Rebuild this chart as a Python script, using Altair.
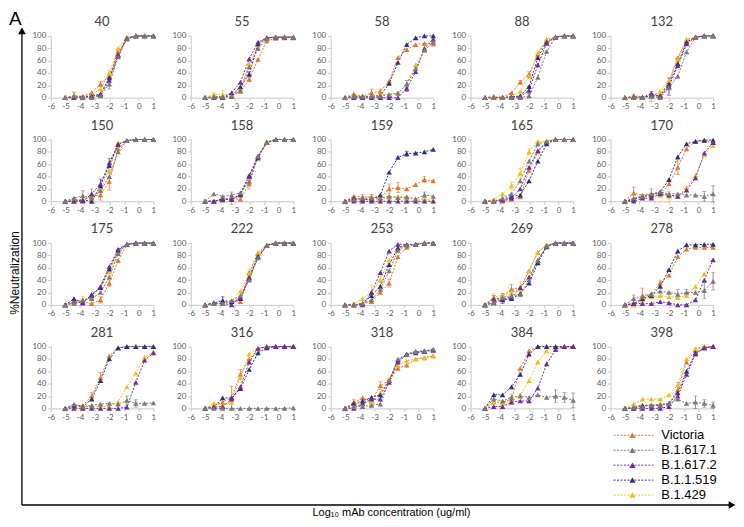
import altair as alt
import pandas as pd

SERIES = ["Victoria", "B.1.617.1", "B.1.617.2", "B.1.1.519", "B.1.429"]
COLORS = ["#E2772F", "#7A7A7A", "#6A2CA0", "#26307F", "#F3BD1C"]
DRAW_ORDER = ["Victoria", "B.1.429", "B.1.1.519", "B.1.617.2", "B.1.617.1"]
LOG_CONC = [-5.02, -4.42, -3.82, -3.21, -2.61, -2.01, -1.41, -0.81, -0.20, 0.40, 1.00]
X_TICKS = [-6, -5, -4, -3, -2, -1, 0, 1]
Y_TICKS = [0, 20, 40, 60, 80, 100]
PANELS = ["40", "55", "58", "88", "132", "150", "158", "159", "165", "170",
          "175", "222", "253", "269", "278", "281", "316", "318", "384", "398"]

# %neutralization per mAb, series -> values at LOG_CONC
mab40 = {
    "Victoria":  [0, 3, 2, 8, 22, 35, 75, 97, 100, 100, 100],
    "B.1.617.1": [0, 3, 1, 0, 3, 22, 66, 95, 100, 100, 100],
    "B.1.617.2": [0, 0, 1, 3, 5, 28, 70, 96, 100, 100, 100],
    "B.1.1.519": [0, 1, 1, 2, 6, 32, 68, 96, 100, 100, 100],
    "B.1.429":   [0, 4, 2, 5, 14, 40, 80, 98, 100, 100, 100],
}
mab55 = {
    "Victoria":  [0, 2, 1, 3, 10, 30, 62, 92, 96, 97, 97],
    "B.1.617.1": [0, 1, 1, 2, 12, 50, 80, 96, 98, 98, 98],
    "B.1.617.2": [0, 0, 0, 8, 25, 63, 90, 97, 98, 98, 98],
    "B.1.1.519": [0, 1, 1, 2, 18, 38, 87, 97, 98, 98, 98],
    "B.1.429":   [0, 5, 5, 5, 15, 55, 85, 97, 98, 98, 98],
}
mab58 = {
    "Victoria":  [0, 6, 2, 8, 10, 27, 65, 78, 86, 88, 87],
    "B.1.617.1": [0, 2, 2, 2, 3, 5, 7, 22, 47, 77, 90],
    "B.1.617.2": [0, 0, 0, 0, 0, 0, 0, 15, 42, 80, 95],
    "B.1.1.519": [0, 2, 2, 2, 3, 23, 57, 86, 97, 100, 100],
    "B.1.429":   [0, 3, 2, 2, 5, 5, 8, 22, 53, 77, 92],
}
mab88 = {
    "Victoria":  [0, 2, 1, 8, 25, 38, 70, 93, 98, 100, 100],
    "B.1.617.1": [0, 0, 0, 0, 0, 3, 33, 75, 98, 100, 100],
    "B.1.617.2": [0, 0, 0, 1, 2, 12, 53, 88, 98, 100, 100],
    "B.1.1.519": [0, 0, 0, 1, 3, 18, 65, 90, 98, 100, 100],
    "B.1.429":   [0, 2, 1, 2, 10, 35, 73, 95, 98, 100, 100],
}
mab132 = {
    "Victoria":  [0, 3, 1, 2, 5, 25, 65, 92, 98, 100, 100],
    "B.1.617.1": [0, 0, 0, 2, 0, 16, 35, 74, 98, 100, 100],
    "B.1.617.2": [0, 0, 0, 7, 2, 18, 52, 87, 98, 100, 100],
    "B.1.1.519": [0, 1, 1, 3, 3, 22, 55, 90, 98, 100, 100],
    "B.1.429":   [0, 1, 1, 2, 10, 28, 62, 95, 98, 100, 100],
}
mab150 = {
    "Victoria":  [0, 3, 2, 8, 10, 32, 85, 98, 100, 100, 100],
    "B.1.617.1": [0, 5, 9, 5, 17, 40, 80, 98, 100, 100, 100],
    "B.1.617.2": [0, 0, 0, 12, 28, 62, 92, 98, 100, 100, 100],
    "B.1.1.519": [0, 0, 2, 0, 25, 58, 92, 98, 100, 100, 100],
    "B.1.429":   [0, 2, 3, 5, 20, 50, 95, 98, 100, 100, 100],
}
mab158 = {
    "Victoria":  [0, 0, 2, 5, 3, 28, 72, 95, 100, 100, 100],
    "B.1.617.1": [0, 12, 8, 10, 14, 32, 73, 95, 100, 100, 100],
    "B.1.617.2": [0, 0, 3, 3, 10, 40, 70, 95, 100, 100, 100],
    "B.1.1.519": [0, 0, 4, 3, 12, 42, 73, 95, 100, 100, 100],
    "B.1.429":   [0, 0, 4, 3, 12, 38, 72, 97, 100, 100, 100],
}
mab159 = {
    "Victoria":  [0, 8, 7, 7, 5, 20, 22, 20, 27, 35, 33],
    "B.1.617.1": [0, 3, 5, 5, 5, 8, 6, 7, 4, 10, 8],
    "B.1.617.2": [0, 0, 0, 0, 0, 0, 0, 0, 0, 0, 0],
    "B.1.1.519": [0, 5, 3, 3, 10, 47, 71, 77, 78, 80, 84],
    "B.1.429":   [0, 3, 3, 3, 3, 5, 8, 5, 4, 3, 2],
}
mab165 = {
    "Victoria":  [0, 2, 0, 3, 7, 50, 80, 96, 100, 100, 100],
    "B.1.617.1": [0, 0, 5, 12, 33, 65, 93, 97, 100, 100, 100],
    "B.1.617.2": [0, 0, 2, 5, 20, 55, 82, 96, 100, 100, 100],
    "B.1.1.519": [0, 0, 3, 8, 10, 33, 65, 93, 100, 100, 100],
    "B.1.429":   [0, 3, 12, 25, 45, 80, 97, 98, 100, 100, 100],
}
mab170 = {
    "Victoria":  [0, 13, 10, 12, 12, 28, 55, 85, 97, 98, 95],
    "B.1.617.1": [0, 5, 8, 12, 15, 12, 12, 10, 10, 8, 12],
    "B.1.617.2": [0, 0, 5, 5, 12, 10, 8, 18, 38, 78, 95],
    "B.1.1.519": [0, 3, 8, 10, 15, 35, 72, 93, 97, 99, 99],
    "B.1.429":   [0, 3, 8, 8, 10, 8, 8, 22, 42, 75, 90],
}
mab175 = {
    "Victoria":  [0, 2, 5, 2, 8, 35, 72, 97, 100, 100, 100],
    "B.1.617.1": [0, 3, 8, 10, 20, 45, 83, 98, 100, 100, 100],
    "B.1.617.2": [0, 5, 3, 15, 30, 62, 90, 98, 100, 100, 100],
    "B.1.1.519": [0, 10, 3, 17, 28, 58, 88, 98, 100, 100, 100],
    "B.1.429":   [0, 5, 8, 12, 28, 53, 85, 98, 100, 100, 100],
}
mab222 = {
    "Victoria":  [0, 2, 2, 5, 5, 52, 83, 97, 100, 100, 100],
    "B.1.617.1": [0, 2, 2, 7, 15, 40, 76, 96, 100, 100, 100],
    "B.1.617.2": [0, 2, 2, 0, 12, 45, 78, 96, 100, 100, 100],
    "B.1.1.519": [0, 3, 7, 5, 10, 43, 78, 96, 100, 100, 100],
    "B.1.429":   [0, 3, 2, 5, 22, 50, 85, 97, 100, 100, 100],
}
mab253 = {
    "Victoria":  [0, 0, 2, 5, 20, 35, 78, 93, 98, 100, 100],
    "B.1.617.1": [0, 0, 2, 8, 25, 55, 88, 97, 98, 100, 100],
    "B.1.617.2": [0, 0, 0, 20, 52, 87, 98, 98, 98, 100, 100],
    "B.1.1.519": [0, 0, 2, 15, 30, 65, 92, 97, 98, 100, 100],
    "B.1.429":   [0, 2, 10, 20, 40, 73, 93, 97, 98, 100, 100],
}
mab269 = {
    "Victoria":  [0, 5, 15, 25, 28, 55, 85, 96, 100, 100, 100],
    "B.1.617.1": [0, 3, 12, 15, 17, 40, 72, 95, 100, 100, 100],
    "B.1.617.2": [0, 10, 10, 12, 28, 45, 72, 95, 100, 100, 100],
    "B.1.1.519": [0, 3, 8, 10, 18, 35, 68, 94, 100, 100, 100],
    "B.1.429":   [0, 13, 15, 20, 25, 55, 85, 97, 100, 100, 100],
}
mab278 = {
    "Victoria":  [0, 0, 15, 18, 35, 48, 78, 90, 93, 93, 93],
    "B.1.617.1": [0, 10, 13, 17, 22, 20, 17, 20, 20, 23, 38],
    "B.1.617.2": [0, 2, 2, 2, 5, 3, 0, 0, 8, 40, 73],
    "B.1.1.519": [0, 2, 10, 15, 30, 57, 87, 97, 97, 98, 98],
    "B.1.429":   [0, 0, 8, 13, 15, 13, 12, 15, 30, 50, 72],
}
mab281 = {
    "Victoria":  [0, 3, 5, 20, 50, 85, 98, 100, 100, 100, 100],
    "B.1.617.1": [0, 7, 3, 5, 7, 8, 7, 13, 8, 8, 9],
    "B.1.617.2": [0, 0, 0, 0, 0, 0, 0, 2, 42, 78, 90],
    "B.1.1.519": [0, 5, 3, 15, 45, 80, 98, 100, 100, 100, 100],
    "B.1.429":   [0, 2, 2, 3, 3, 3, 10, 35, 57, 83, 92],
}
mab316 = {
    "Victoria":  [0, 5, 10, 18, 55, 80, 97, 100, 100, 100, 100],
    "B.1.617.1": [0, 0, 0, 0, 0, 0, 0, 0, 0, 0, 1],
    "B.1.617.2": [0, 2, 3, 15, 35, 75, 97, 100, 100, 100, 100],
    "B.1.1.519": [0, 2, 17, 17, 32, 63, 90, 98, 100, 100, 100],
    "B.1.429":   [0, 8, 5, 10, 50, 88, 97, 100, 100, 100, 100],
}
mab318 = {
    "Victoria":  [0, 10, 17, 12, 37, 45, 65, 70, 80, 82, 85],
    "B.1.617.1": [0, 3, 3, 5, 7, 45, 80, 87, 92, 93, 96],
    "B.1.617.2": [0, 0, 8, 15, 15, 42, 75, 87, 90, 92, 94],
    "B.1.1.519": [0, 8, 12, 18, 22, 45, 78, 88, 92, 93, 95],
    "B.1.429":   [0, 5, 10, 10, 25, 48, 70, 77, 80, 82, 85],
}
mab384 = {
    "Victoria":  [0, 10, 10, 15, 65, 93, 100, 100, 100, 100, 100],
    "B.1.617.1": [0, 15, 12, 18, 20, 18, 22, 18, 20, 18, 13],
    "B.1.617.2": [0, 3, 3, 10, 12, 12, 33, 72, 95, 100, 100],
    "B.1.1.519": [0, 22, 22, 35, 55, 88, 100, 100, 100, 100, 100],
    "B.1.429":   [0, 10, 8, 10, 22, 45, 75, 93, 98, 100, 100],
}
mab398 = {
    "Victoria":  [0, 3, 5, 5, 7, 8, 30, 75, 95, 100, 100],
    "B.1.617.1": [0, 2, 3, 5, 5, 8, 15, 8, 10, 8, 5],
    "B.1.617.2": [0, 0, 0, 0, 0, 3, 20, 55, 88, 98, 100],
    "B.1.1.519": [0, 0, 5, 5, 5, 8, 25, 60, 90, 98, 100],
    "B.1.429":   [0, 7, 15, 15, 15, 22, 38, 80, 97, 100, 100],
}

# error bar half-widths: series -> {point index: error}
err40 = {"B.1.617.1": {1: 6, 5: 8}, "Victoria": {4: 4}, "B.1.429": {5: 4}}
err55 = {"B.1.429": {1: 3, 2: 7}, "Victoria": {5: 4}, "B.1.1.519": {5: 4}}
err58 = {"Victoria": {3: 6, 4: 4}, "B.1.617.1": {7: 6}, "B.1.617.2": {7: 5}}
err88 = {"Victoria": {4: 3, 5: 4}, "B.1.617.2": {5: 6}}
err132 = {"Victoria": {1: 3, 3: 8}, "B.1.617.2": {5: 14}}
err150 = {"B.1.617.1": {2: 8}, "Victoria": {3: 12, 4: 8, 5: 14}, "B.1.617.2": {4: 8, 5: 7}}
err158 = {"Victoria": {3: 10, 5: 8}}
err159 = {"Victoria": {2: 4, 3: 4, 5: 8, 6: 8, 9: 5}, "B.1.617.1": {9: 5}, "B.1.1.519": {7: 4}}
err165 = {"B.1.429": {3: 6, 4: 8, 5: 5}}
err170 = {"Victoria": {1: 10, 3: 8, 6: 12}, "B.1.617.1": {9: 8, 10: 13}, "B.1.429": {5: 8}}
err175 = {"B.1.429": {2: 6}, "Victoria": {4: 5, 5: 5}}
err222 = {"B.1.1.519": {2: 6}, "B.1.429": {5: 8}}
err253 = {"B.1.429": {3: 12, 4: 8}, "Victoria": {5: 6}}
err269 = {"B.1.429": {1: 5, 4: 12}, "B.1.617.2": {1: 5, 2: 8}, "Victoria": {3: 8}}
err278 = {"Victoria": {2: 12, 4: 5}, "B.1.617.1": {1: 6, 6: 8, 7: 5, 9: 13, 10: 14}}
err281 = {"Victoria": {3: 6, 4: 8}, "B.1.617.1": {7: 7, 8: 6}}
err316 = {"Victoria": {3: 18, 4: 8}}
err318 = {"Victoria": {1: 4, 4: 6}}
err384 = {"Victoria": {3: 8}, "B.1.617.1": {8: 10, 9: 8, 10: 12}}
err398 = {"Victoria": {6: 12}, "B.1.617.1": {8: 10, 9: 6, 10: 5}}

VALUES = [mab40, mab55, mab58, mab88, mab132, mab150, mab158, mab159, mab165, mab170,
          mab175, mab222, mab253, mab269, mab278, mab281, mab316, mab318, mab384, mab398]
ERRORS = [err40, err55, err58, err88, err132, err150, err158, err159, err165, err170,
          err175, err222, err253, err269, err278, err281, err316, err318, err384, err398]

LABEL_FONT = "Lato"
TEXT_FONT = "Liberation Sans"

color_enc = alt.Color("series:N", scale=alt.Scale(domain=SERIES, range=COLORS), legend=None)


def yq(field):
    return alt.Y(field, type="quantitative", title=None,
                 scale=alt.Scale(domain=[0, 100], nice=False),
                 axis=alt.Axis(values=Y_TICKS, labelOverlap=False, tickCount=6))


def panel(name, vals, errs):
    rows = []
    for s in DRAW_ORDER:
        e_map = errs.get(s, {})
        for i, (x, y) in enumerate(zip(LOG_CONC, vals[s])):
            e = e_map.get(i, 0)
            rows.append({"series": s, "x": x, "y": y, "err": e, "lo": y - e, "hi": y + e})
    df = pd.DataFrame(rows)
    base = alt.Chart(df)
    xe = alt.X("x:Q", title=None,
               scale=alt.Scale(domain=[-6, 1], nice=False, zero=False),
               axis=alt.Axis(values=X_TICKS, labelExpr="'' + datum.value",
                             labelFlush=False, labelOverlap=False))
    line = base.mark_line(strokeDash=[2, 1.5], strokeWidth=1).encode(
        x=xe, y=yq("y"), color=color_enc)
    eb = base.transform_filter("datum.err > 0")
    rule = eb.mark_rule(strokeWidth=0.8).encode(x=xe, y=yq("lo"), y2="hi:Q", color=color_enc)
    cap_hi = eb.mark_tick(orient="horizontal", size=4, thickness=0.8).encode(
        x=xe, y=yq("hi"), color=color_enc)
    cap_lo = eb.mark_tick(orient="horizontal", size=4, thickness=0.8).encode(
        x=xe, y=yq("lo"), color=color_enc)
    pts = base.mark_point(shape="triangle-up", filled=True, size=30, opacity=1).encode(
        x=xe, y=yq("y"), color=color_enc)
    return alt.layer(line, rule, cap_hi, cap_lo, pts).properties(
        width=103, height=62,
        title=alt.TitleParams(name, fontSize=13, font=LABEL_FONT, fontWeight="normal",
                              color="#404040", offset=3, anchor="middle"),
    )


panels = [panel(n, v, e) for n, v, e in zip(PANELS, VALUES, ERRORS)]

# frame: legend, big axes and axis titles (row 5, column 1 of the grid)
one = pd.DataFrame({"k": [0]})
leg = pd.DataFrame({"series": SERIES})
yleg = alt.Y("series:N", axis=None,
             scale=alt.Scale(type="point", domain=SERIES, range=[-15, 45], padding=0))

leg_line = alt.Chart(leg).mark_rule(strokeDash=[2, 1.5], strokeWidth=1).encode(
    x=alt.value(565), x2=alt.value(605), y=yleg, color=color_enc)
leg_pt = alt.Chart(leg).mark_point(shape="triangle-up", filled=True, size=40, opacity=1).encode(
    x=alt.value(584), y=yleg, color=color_enc)
leg_txt = alt.Chart(leg).mark_text(align="left", baseline="middle", fontSize=13,
                                   font=TEXT_FONT, color="#000000").encode(
    x=alt.value(613), y=yleg, text="series:N")

vline = alt.Chart(one).mark_rule(color="#000000", strokeWidth=1.3).encode(
    x=alt.value(-29), y=alt.value(-421), y2=alt.value(55))
varrow = alt.Chart(one).mark_point(shape="triangle-up", filled=True, size=60, opacity=1,
                                   color="#000000").encode(x=alt.value(-29), y=alt.value(-421))
hline = alt.Chart(one).mark_rule(color="#000000", strokeWidth=1.3).encode(
    x=alt.value(-29), x2=alt.value(684), y=alt.value(55))
harrow = alt.Chart(one).mark_point(shape="triangle-right", filled=True, size=60, opacity=1,
                                   color="#000000").encode(x=alt.value(684), y=alt.value(55))
letter = alt.Chart(one).mark_text(text="A", fontSize=19, align="left", baseline="top",
                                  font=TEXT_FONT, color="#000000").encode(
    x=alt.value(-42), y=alt.value(-442))
ylab = alt.Chart(one).mark_text(text="%Neutralization", angle=270, fontSize=12, align="center",
                                baseline="middle", font=TEXT_FONT, color="#000000").encode(
    x=alt.value(-36), y=alt.value(-178))
xlab = alt.Chart(one).mark_text(text="Log₁₀ mAb concentration (ug/ml)", fontSize=11,
                                align="center", baseline="middle", font=TEXT_FONT,
                                color="#000000").encode(x=alt.value(342), y=alt.value(63))

frame = alt.layer(leg_line, leg_pt, leg_txt, vline, varrow, hline, harrow,
                  letter, ylab, xlab).properties(width=103, height=10)

chart = alt.concat(
    *panels, frame, columns=5, bounds="flush", align="all",
    spacing=alt.RowColnumber(row=42, column=37.5),
).properties(padding=0).configure_view(
    stroke="transparent"
).configure_axis(
    grid=False, labelFontSize=8, labelFont=LABEL_FONT, labelColor="#595959",
    domainColor="#C8C8C8", tickColor="#C8C8C8", tickSize=3, labelPadding=2,
    domainWidth=1,
)

chart.save("out.html", embed_options={"renderer": "svg", "actions": False})
